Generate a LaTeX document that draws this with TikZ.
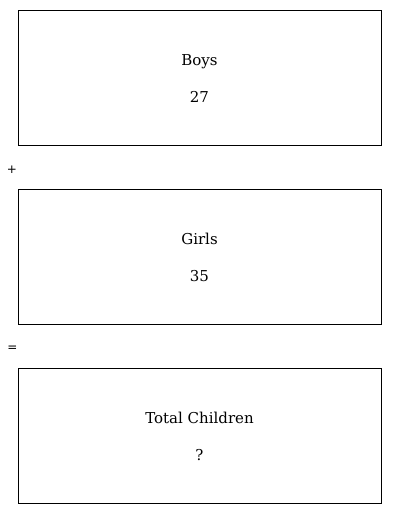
\documentclass[tikz,border=0pt]{standalone}
\usepackage{fontspec}
\newfontfamily\labelfont{DejaVu Serif}
\newfontfamily\opfont{DejaVu Sans}
\tikzset{
    bar/.style={draw, line width=0.9pt, minimum width=363pt, minimum height=135pt, inner sep=0pt},
    label/.style={font=\labelfont\fontsize{15}{18}\selectfont, inner sep=0pt, anchor=base},
    op/.style={font=\opfont\fontsize{12}{14}\selectfont, inner sep=0pt}
}
\begin{document}
\begin{tikzpicture}[x=1pt, y=-1pt]
    \useasboundingbox (0,0) rectangle (400,514);

    % boys
    \node[bar] (boys) at (199.5,77.5) {};
    \node[label] (boysname) at (199.5,65) {Boys};
    \node[label] (boysnum) at (199.5,102) {27};

    \node[op] (plus) at (12,170) {+};

    % girls
    \node[bar] (girls) at (199.5,256.5) {};
    \node[label] (girlsname) at (199.5,244) {Girls};
    \node[label] (girlsnum) at (199.5,281) {35};

    \node[op] (equals) at (12.5,349) {=};

    % total
    \node[bar] (total) at (199.5,435.5) {};
    \node[label] (totalname) at (199.5,423) {Total Children};
    \node[label] (totalnum) at (199.5,460) {?};
\end{tikzpicture}
\end{document}
